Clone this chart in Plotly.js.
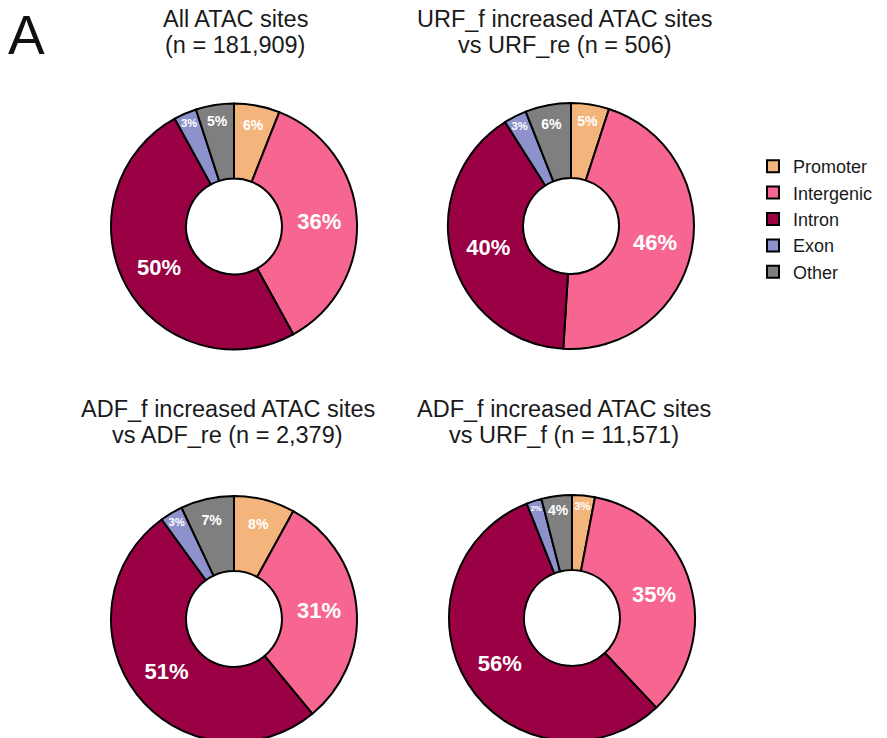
<!DOCTYPE html>
<html><head><meta charset="utf-8">
<script src="https://cdn.plot.ly/plotly-3.0.1.min.js"></script>
<style>html,body{margin:0;padding:0;overflow:hidden;background:#fff}</style>
</head><body>
<div id="chart" style="width:887px;height:745px"></div>
<script>
const categories = ["Promoter", "Intergenic", "Intron", "Exon", "Other"];
const colors = ["#F3B57C", "#F66690", "#9A0044", "#8E92CC", "#7F7F7F"];
const titleLine1 = [
  "All ATAC sites",
  "URF_f increased ATAC sites",
  "ADF_f increased ATAC sites",
  "ADF_f increased ATAC sites"
];
const titleLine2 = [
  "(n = 181,909)",
  "vs URF_re (n = 506)",
  "vs ADF_re (n = 2,379)",
  "vs URF_f (n = 11,571)"
];
const allSites = [6, 36, 50, 3, 5];
const urfVsRe = [5, 46, 40, 3, 6];
const adfVsRe = [8, 31, 51, 3, 7];
const adfVsUrf = [3, 35, 56, 2, 4];
const seriesValues = [allSites, urfVsRe, adfVsRe, adfVsUrf];

const W = 887, H = 745;
const centers = [[234, 226.5], [571, 226], [234, 619], [572, 618]];
const R = 123;
const titleX = [235, 565, 228, 564];
const titleY1 = [19, 19, 409, 409];
const lineGap = 26;
const FONT = "Liberation Sans, Arial, sans-serif";

const traces = seriesValues.map((vals, i) => {
  const [cx, cy] = centers[i];
  return {
    type: "pie",
    labels: categories,
    values: vals,
    sort: false,
    direction: "clockwise",
    rotation: 0,
    hole: 0.39,
    marker: {colors: colors, line: {color: "#000", width: 2}},
    texttemplate: "%{value}%",
    textposition: "inside",
    insidetextorientation: "horizontal",
    textfont: {family: FONT, color: "#fff", weight: "bold",
               size: vals.map(v => v >= 20 ? 22 : 14)},
    domain: {x: [(cx - R) / W, (cx + R) / W], y: [(H - cy - R) / H, (H - cy + R) / H]},
    hoverinfo: "label+percent",
    showlegend: i === 0
  };
});

const annotations = [];
titleLine1.forEach((t, i) => {
  [t, titleLine2[i]].forEach((line, k) => {
    annotations.push({
      text: line, x: titleX[i] / W, y: 1 - (titleY1[i] + k * lineGap) / H,
      xref: "paper", yref: "paper", xanchor: "center", yanchor: "middle",
      showarrow: false, font: {family: FONT, size: 23.5, color: "#1a1a1a"}
    });
  });
});
annotations.push({
  text: "A", x: 6 / W, y: 1 - 35 / H, xref: "paper", yref: "paper",
  xanchor: "left", yanchor: "middle", showarrow: false,
  font: {family: FONT, size: 55, color: "#111"}
});

const layout = {
  width: W, height: H,
  margin: {l: 0, r: 0, t: 0, b: 0},
  paper_bgcolor: "#fff",
  showlegend: true,
  legend: {x: 753 / W, y: 1 - 148 / H, xanchor: "left", yanchor: "top",
           font: {family: FONT, size: 18, color: "#1a1a1a"},
           tracegroupgap: 0, itemwidth: 30},
  annotations: annotations
};
Plotly.newPlot("chart", traces, layout, {displayModeBar: false, staticPlot: true});
</script>
</body></html>
